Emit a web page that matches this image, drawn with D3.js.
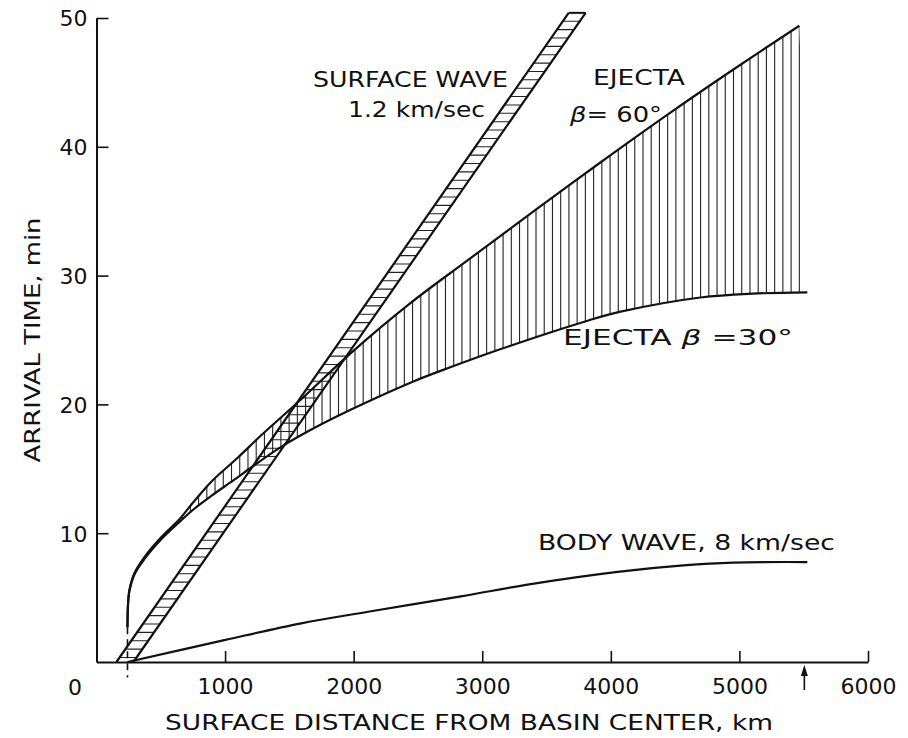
<!DOCTYPE html>
<html>
<head>
<meta charset="utf-8">
<script src="https://d3js.org/d3.v7.min.js"></script>
<style>
  body { margin: 0; background: #fff; }
  text { font-family: "DejaVu Sans", sans-serif; fill: #111; }
</style>
</head>
<body>
<svg id="chart" width="908" height="738"></svg>
<script>
// tick values
var xTicks = [1000, 2000, 3000, 4000, 5000, 6000];
var yTicks = [10, 20, 30, 40, 50];

// [surface distance km, arrival time min]
var ejecta60 = [[241, 2.7], [245, 4.5], [256, 5.6], [295, 6.9], [373, 8.15], [505, 9.7],
  [637, 11.0], [761, 12.5], [893, 14.0], [1102, 15.9], [1281, 17.6], [1592, 20.4],
  [1980, 24.0], [2446, 27.9], [2888, 31.2], [3401, 35.0], [3921, 38.8], [4441, 42.5],
  [4953, 46.0], [5466, 49.4]];
var ejecta30 = [[241, 2.7], [245, 4.4], [256, 5.5], [295, 6.8], [373, 8.0], [505, 9.55],
  [637, 10.8], [761, 11.9], [893, 12.9], [1064, 14.1], [1203, 15.1], [1436, 16.7],
  [1700, 18.2], [1980, 19.6], [2469, 21.8], [2756, 22.9], [3144, 24.3], [3820, 26.5],
  [4076, 27.2], [4697, 28.3], [5100, 28.6], [5528, 28.7]];
var bodyWave = [[241, 0], [994, 1.7], [1592, 3.0], [2112, 3.9], [2834, 5.1], [3377, 6.05],
  [4053, 7.0], [4565, 7.5], [4953, 7.72], [5528, 7.76]];
var surfaceLate = [[155, 0], [3672, 50.4]];
var surfaceEarly = [[287, 0], [3804, 50.4]];
var ejectaStart = [[241, 2.7], [241, -1.2]];
var arrowAt = 5505;

var svg = d3.select("#chart");

var x = d3.scaleLinear().domain([0, 6000]).range([96.5, 868]);
var y = d3.scaleLinear().domain([0, 50]).range([662, 18]);

var straight = d3.line().x(function(d) { return x(d[0]); }).y(function(d) { return y(d[1]); });
var curved = d3.line().x(function(d) { return x(d[0]); }).y(function(d) { return y(d[1]); })
  .curve(d3.curveCatmullRom.alpha(0.5));

// clip regions for the hatching
var defs = svg.append("defs");
defs.append("clipPath").attr("id", "ejectaClip").append("path")
  .attr("d", curved(ejecta60) + curved(ejecta30.slice().reverse()).replace(/^M/, "L") + "Z");
defs.append("clipPath").attr("id", "bandClip").append("path")
  .attr("d", straight([surfaceLate[0], surfaceLate[1], surfaceEarly[1], surfaceEarly[0]]) + "Z");

// vertical hatching between the two ejecta curves
svg.append("g").attr("clip-path", "url(#ejectaClip)")
  .selectAll("line").data(d3.range(5466, 560, -64)).join("line")
  .attr("x1", function(d) { return x(d); }).attr("x2", function(d) { return x(d); })
  .attr("y1", y(0)).attr("y2", y(52))
  .attr("stroke", "#222").attr("stroke-width", 1.1);

// horizontal rungs across the surface wave band
svg.append("g").attr("clip-path", "url(#bandClip)")
  .selectAll("line").data(d3.range(0.35, 50.4, 0.65)).join("line")
  .attr("x1", x(0)).attr("x2", x(4200))
  .attr("y1", function(d) { return y(d); }).attr("y2", function(d) { return y(d); })
  .attr("stroke", "#222").attr("stroke-width", 1.1);

// axes
var xAxis = svg.append("g").attr("transform", "translate(0," + y(0) + ")")
  .call(d3.axisBottom(x).tickValues(xTicks).tickFormat(d3.format("d"))
    .tickSizeInner(-11).tickSizeOuter(0).tickPadding(16));
var yAxis = svg.append("g").attr("transform", "translate(" + x(0) + ",0)")
  .call(d3.axisLeft(y).tickValues(yTicks).tickFormat(d3.format("d"))
    .tickSizeInner(-12).tickSizeOuter(0).tickPadding(9));
[xAxis, yAxis].forEach(function(a) {
  a.attr("font-family", null).attr("font-size", null);
  a.select(".domain").attr("stroke", "#111").attr("stroke-width", 2);
  a.selectAll(".tick line").attr("stroke", "#111").attr("stroke-width", 1.6);
  a.selectAll(".tick text").style("font-size", "22px").attr("fill", "#111");
});
yAxis.selectAll(".tick text").attr("dy", "0.36em");
svg.append("text").attr("x", 75).attr("y", 695).attr("text-anchor", "middle")
  .style("font-size", "22px").text("0");

// curves
function drawCurve(data, gen, w) {
  svg.append("path").datum(data).attr("d", gen)
    .attr("fill", "none").attr("stroke", "#111").attr("stroke-width", w);
}
drawCurve(ejecta60, curved, 2.2);
drawCurve(ejecta30, curved, 2.2);
drawCurve(bodyWave, curved, 2.2);
drawCurve(surfaceLate, straight, 2.2);
drawCurve(surfaceEarly, straight, 2.2);
drawCurve([surfaceLate[1], surfaceEarly[1]], straight, 2);
svg.append("path").datum(ejectaStart).attr("d", straight)
  .attr("fill", "none").attr("stroke", "#111").attr("stroke-width", 1.6)
  .attr("stroke-dasharray", "7,5");

// arrow under the axis
svg.append("line").attr("x1", x(arrowAt)).attr("x2", x(arrowAt))
  .attr("y1", 672).attr("y2", 690).attr("stroke", "#111").attr("stroke-width", 1.6);
svg.append("path")
  .attr("d", "M" + x(arrowAt) + ",665 l-3.5,11 l7,0 Z").attr("fill", "#111");

// labels
function label(txt, x0, base, len, size) {
  return svg.append("text").attr("x", x0).attr("y", base)
    .attr("textLength", len).attr("lengthAdjust", "spacingAndGlyphs")
    .style("font-size", size + "px").text(txt);
}
label("SURFACE WAVE", 313, 87, 195, 21);
label("1.2 km/sec", 348, 117, 137, 21);
label("EJECTA", 593, 85, 92, 21);
var b60 = svg.append("text").attr("x", 570).attr("y", 122)
  .attr("textLength", 92).attr("lengthAdjust", "spacingAndGlyphs").style("font-size", "21px");
b60.append("tspan").style("font-style", "italic").text("β");
b60.append("tspan").text("= 60°");
var b30 = svg.append("text").attr("x", 563).attr("y", 345)
  .attr("textLength", 230).attr("lengthAdjust", "spacingAndGlyphs").style("font-size", "21px");
b30.append("tspan").text("EJECTA ");
b30.append("tspan").style("font-style", "italic").text("β");
b30.append("tspan").text(" =30°");
label("BODY WAVE, 8 km/sec", 538, 550, 297, 21);

label("SURFACE DISTANCE FROM BASIN CENTER, km", 165, 730, 608, 22);
svg.append("text")
  .attr("transform", "translate(40,340) rotate(-90)")
  .attr("text-anchor", "middle")
  .attr("textLength", 245).attr("lengthAdjust", "spacingAndGlyphs")
  .style("font-size", "22px").text("ARRIVAL TIME, min");
</script>
</body>
</html>
